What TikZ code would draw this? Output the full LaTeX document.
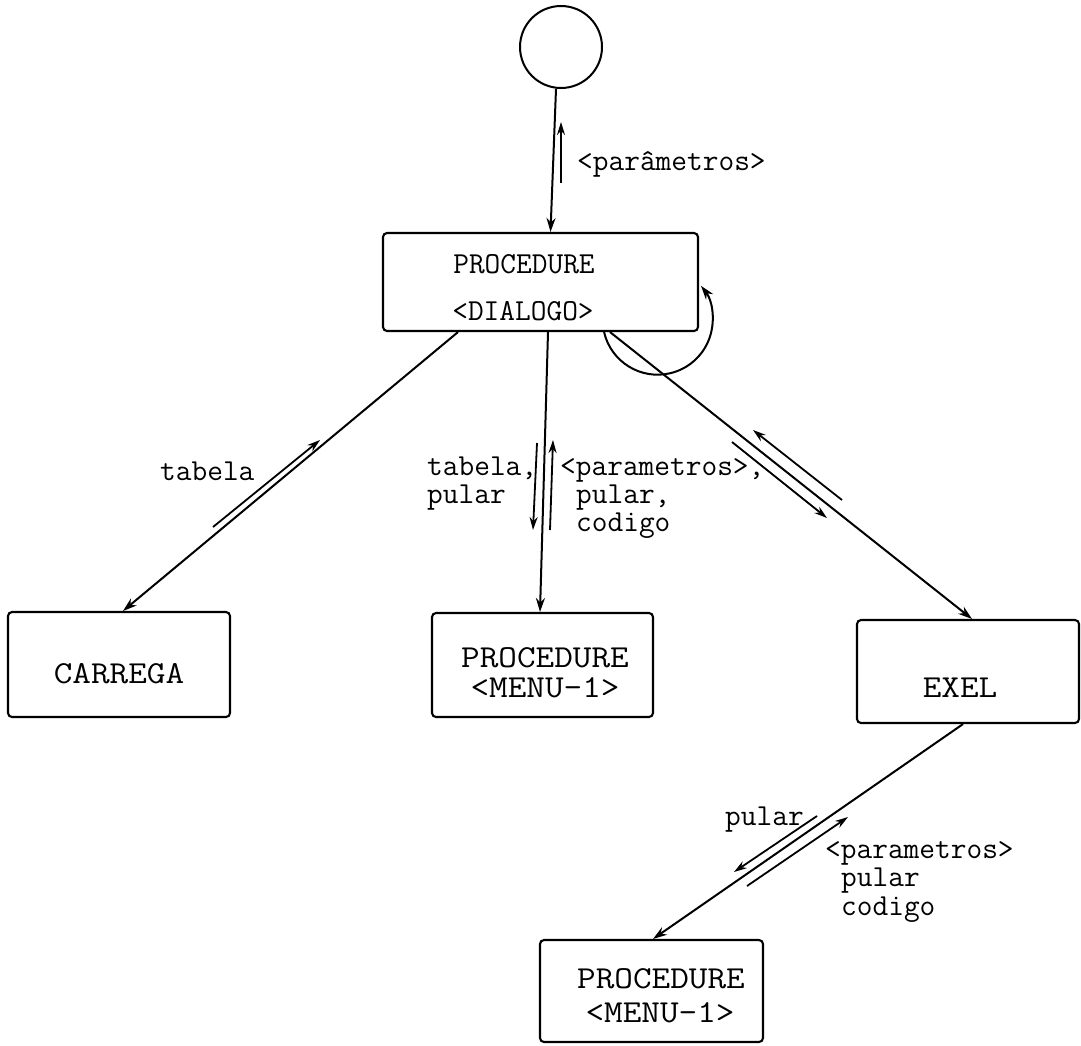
\documentclass[tikz,border=0pt]{standalone}
\usepackage{fontspec}
\usepackage{graphicx}
\usetikzlibrary{arrows.meta}

% typewriter faces: small one for flow labels, wide one for module names
\newcommand\flowfont{\fontsize{30.5}{30}\selectfont\ttfamily\addfontfeatures{FakeBold=0.8}}
\newcommand\modfont{\fontsize{32}{32}\selectfont\ttfamily\addfontfeatures{FakeBold=0.8}}
\newcommand\wide[1]{\scalebox{1.13}[1]{#1}}

\tikzset{
  x=1pt, y=-1pt,
  module/.style={draw, line width=2.1pt, rounded corners=4pt, inner sep=0pt},
  link/.style={line width=2pt, -{Stealth[length=14pt,width=9pt]}},
  flow/.style={line width=1.8pt, -{Stealth[length=13pt,width=8pt]}},
  lbl/.style={font=\flowfont, inner sep=0pt, anchor=base west},
  modname/.style={font=\modfont, inner sep=0pt, anchor=base},
}

\begin{document}
\begin{tikzpicture}
\useasboundingbox (0,0) rectangle (1081,1045);

% modules
\node[draw, circle, line width=2pt, minimum size=82pt, inner sep=0pt] (C) at (561,47) {};
\node[module, minimum width=315pt, minimum height=98pt] (D) at (540.5,282) {};
\node[module, minimum width=222pt, minimum height=105pt] (K) at (119,664.5) {};
\node[module, minimum width=221pt, minimum height=104pt] (M1) at (542.5,665) {};
\node[module, minimum width=222pt, minimum height=103pt] (E) at (968,671.5) {};
\node[module, minimum width=223pt, minimum height=102pt] (M2) at (651.5,991) {};

% module names
\node[modname, font=\flowfont] (Dt1) at (524,273) {PROCEDURE};
\node[modname, font=\flowfont] (Dt2) at (523,320) {<DIALOGO>};
\node[modname] (Kt) at (119,683) {\wide{CARREGA}};
\node[modname] (M1t1) at (545,667) {\wide{PROCEDURE}};
\node[modname] (M1t2) at (545,697) {\wide{<MENU-1>}};
\node[modname] (Et) at (960,697) {\wide{EXEL}};
\node[modname] (M2t1) at (661,988) {\wide{PROCEDURE}};
\node[modname] (M2t2) at (660,1022) {\wide{<MENU-1>}};

% calls between modules
\draw[link] ([xshift=-5]C.south) -- ([xshift=10]D.north);
\draw[link] ([xshift=-82.5]D.south) -- ([xshift=4]K.north);
\draw[link] ([xshift=7.5]D.south) -- ([xshift=-2.5]M1.north);
\draw[link] ([xshift=69.5]D.south) -- ([xshift=4]E.north);
\draw[link] ([xshift=-5]E.south) -- ([xshift=1.5]M2.north);
% recursive call of DIALOGO
\draw[link] ([xshift=-95]D.south east) arc[start angle=167, end angle=-38, radius=55];

% data flow marks beside the calls
\coordinate (a1s) at (561,183); \coordinate (a1e) at (561,122);
\coordinate (a2s) at (213,527); \coordinate (a2e) at (320,440);
\coordinate (a3s) at (537,443); \coordinate (a3e) at (533,530);
\coordinate (a4s) at (550,530); \coordinate (a4e) at (553,440);
\coordinate (a5s) at (732,442); \coordinate (a5e) at (827,518);
\coordinate (a6s) at (842,500); \coordinate (a6e) at (753,430);
\coordinate (a7s) at (817,816); \coordinate (a7e) at (734,872);
\coordinate (a8s) at (747,886); \coordinate (a8e) at (848,817);
\foreach \k in {1,...,8} \draw[flow] (a\k s) -- (a\k e);

% flow labels
\node[lbl] (p0) at (577,170) {<parâmetros>};
\node[lbl] (t1) at (160,480) {tabela};
\node[lbl] (t2) at (427,475) {tabela,};
\node[lbl] (t3) at (427,503) {pular};
\node[lbl] (r1) at (560,475) {<parametros>,};
\node[lbl] (r2) at (576,503) {pular,};
\node[lbl] (r3) at (576,531) {codigo};
\node[lbl] (b0) at (725,825) {pular};
\node[lbl] (b1) at (825,858) {<parametros>};
\node[lbl] (b2) at (841,886) {pular};
\node[lbl] (b3) at (841,915) {codigo};
\end{tikzpicture}
\end{document}
